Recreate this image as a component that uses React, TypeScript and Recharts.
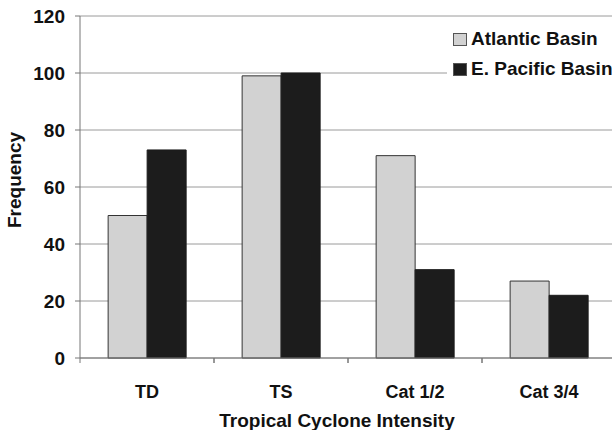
import React from 'react';
import { BarChart, Bar, XAxis, YAxis, CartesianGrid, Legend } from 'recharts';

const categories = ['TD', 'TS', 'Cat 1/2', 'Cat 3/4'];
const atlantic = [50, 99, 71, 27];
const pacific = [73, 100, 31, 22];
const yTicks = [0, 20, 40, 60, 80, 100, 120];

const data = categories.map((c, i) => ({ name: c, atlantic: atlantic[i], pacific: pacific[i] }));

const FONT = '"Liberation Sans", Arial, sans-serif';
const HALF_BAND = 67;

const XTick = (props: any) => {
  const { x, y, payload } = props;
  return (
    <g>
      <line x1={x - HALF_BAND} x2={x - HALF_BAND} y1={y} y2={y + 5} stroke="#777" />
      <line x1={x + HALF_BAND} x2={x + HALF_BAND} y1={y} y2={y + 5} stroke="#777" />
      <text x={x} y={y + 40} textAnchor="middle" fontFamily={FONT} fontWeight="bold" fontSize={18} fill="#111">
        {payload.value}
      </text>
    </g>
  );
};

const LegendContent = (props: any) => {
  const { payload } = props;
  return (
    <div style={{ background: '#fff', padding: '2px 0 2px 6px', fontFamily: FONT, fontWeight: 'bold', fontSize: 19, color: '#111' }}>
      {(payload || []).map((p: any) => (
        <div key={p.value} style={{ display: 'flex', alignItems: 'center', height: 30 }}>
          <span style={{ display: 'inline-block', width: 12, height: 11, background: p.color, border: '1px solid #555', marginRight: 4 }} />
          <span>{p.value}</span>
        </div>
      ))}
    </div>
  );
};

export default function App() {
  return (
    <div style={{ position: 'absolute', left: 0, top: 0, width: 612, height: 430, overflow: 'hidden', background: '#fff' }}>
      <BarChart
        width={620}
        height={430}
        data={data}
        margin={{ top: 16, right: 4, left: 0, bottom: 0 }}
        barCategoryGap="21%"
        barGap={0}
      >
        <CartesianGrid vertical={false} stroke="#9a9a9a" />
        <XAxis
          dataKey="name"
          height={72}
          tickLine={false}
          tickSize={0}
          tickMargin={0}
          stroke="#777"
          tick={<XTick />}
          interval={0}
          label={(p: any) => (
            <text x={337} y={427} textAnchor="middle" fontFamily={FONT} fontWeight="bold" fontSize={19} fill="#111">
              Tropical Cyclone Intensity
            </text>
          )}
        />
        <YAxis
          width={80}
          domain={[0, 120]}
          ticks={yTicks}
          interval={0}
          stroke="#777"
          tickSize={5}
          tickMargin={10}
          tick={{ fontFamily: FONT, fontWeight: 'bold', fontSize: 19, fill: '#111' }}
          label={(p: any) => (
            <text x={21} y={180} transform="rotate(-90 21 180)" textAnchor="middle" fontFamily={FONT} fontWeight="bold" fontSize={19} fill="#111">
              Frequency
            </text>
          )}
        />
        <Legend
          layout="horizontal"
          verticalAlign="middle"
          align="center"
          wrapperStyle={{ position: 'absolute', top: 22, left: 447, right: 'auto', bottom: 'auto', width: 175 }}
          content={<LegendContent />}
        />
        <Bar dataKey="atlantic" name="Atlantic Basin" fill="#d2d2d2" stroke="#333" strokeWidth={1} isAnimationActive={false} />
        <Bar dataKey="pacific" name="E. Pacific Basin" fill="#1c1c1c" stroke="#1c1c1c" strokeWidth={1} isAnimationActive={false} />
      </BarChart>
    </div>
  );
}
